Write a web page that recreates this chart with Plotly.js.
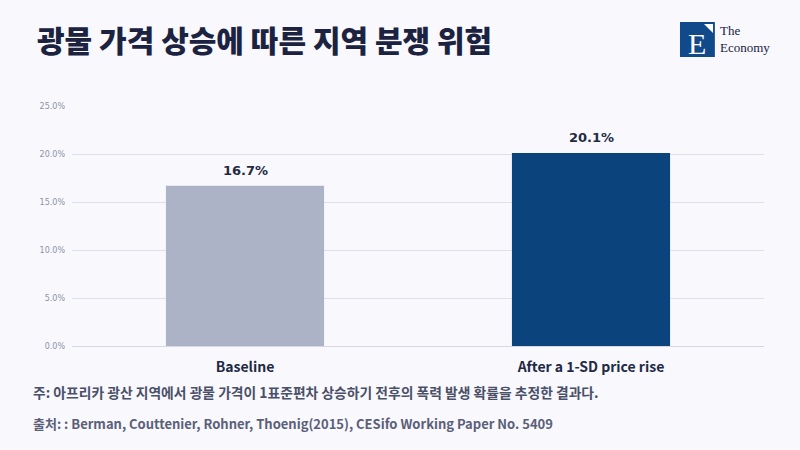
<!DOCTYPE html>
<html>
<head>
<meta charset="utf-8">
<script src="https://cdn.plot.ly/plotly-3.0.1.min.js"></script>
<style>
  html, body { margin: 0; padding: 0; background: #f8f8fd; }
  #chart { width: 800px; height: 450px; }
</style>
</head>
<body>
<div id="chart"></div>
<script>
// 광물 가격 상승 전후 분쟁 확률 (Berman et al. 2015)
const categorias = ['Baseline', 'After a 1-SD price rise'];
const probabilidades = [16.7, 20.1];
const etiquetas = ['16.7%', '20.1%'];
const coloresBarras = ['#adb3c6', '#0b437c'];
const ticksY = [0, 5, 10, 15, 20, 25];
const textosTicksY = ['0.0%', '5.0%', '10.0%', '15.0%', '20.0%', '25.0%'];

const titulo = '광물 가격 상승에 따른 지역 분쟁 위험';
const nota = '주: 아프리카 광산 지역에서 광물 가격이 1표준편차 상승하기 전후의 폭력 발생 확률을 추정한 결과다.';
const fuente = '출처: : Berman, Couttenier, Rohner, Thoenig(2015), CESifo Working Paper No. 5409';

const FUENTE_KR = '"Noto Sans CJK KR", "Noto Sans", sans-serif';
const NAVY = '#1b2340';

const traza = {
  type: 'bar',
  x: categorias,
  y: probabilidades,
  marker: { color: coloresBarras },
  hoverinfo: 'skip',
};

// etiquetas de valor arriba de cada barra (annotations para controlar la separación)
const anotacionesValores = categorias.map((c, i) => ({
  text: etiquetas[i], x: c, y: probabilidades[i], xref: 'x', yref: 'y',
  yanchor: 'bottom', yshift: 6, showarrow: false,
  font: { family: 'DejaVu Sans', size: 13, color: '#1f2a44', weight: 'bold' },
}));

// área de trazado: margen l=72, r=36, t=106, b=104 (240 px de alto)
const layout = {
  width: 800,
  height: 450,
  margin: { l: 72, r: 36, t: 106, b: 104 },
  paper_bgcolor: '#f8f8fd',
  plot_bgcolor: '#f8f8fd',
  bargap: 0.543,
  showlegend: false,
  xaxis: {
    showgrid: false,
    zeroline: false,
    showline: true,
    linecolor: '#d6d7e2',
    linewidth: 1,
    ticks: '',
    ticklabelstandoff: 8,
    tickfont: { family: FUENTE_KR, size: 14, color: '#1f2a44', weight: 'bold' },
  },
  yaxis: {
    range: [0, 25],
    tickvals: ticksY,
    ticktext: textosTicksY,
    showgrid: true,
    gridcolor: '#dfe0ea',
    gridwidth: 1,
    zeroline: false,
    ticks: '',
    ticklabelstandoff: 6,
    tickfont: { family: 'DejaVu Sans', size: 8, color: '#8d93a8' },
  },
  font: { family: FUENTE_KR },
  shapes: [
    // logo
    { type: 'rect', xref: 'paper', yref: 'paper', x0: 0.8786, x1: 0.929, y0: 1.204, y1: 1.35,
      fillcolor: '#104a8b', line: { width: 0 } },
    { type: 'path', xref: 'paper', yref: 'paper', path: 'M 0.9133 1.3417 L 0.9263 1.3417 L 0.9263 1.3042 Z',
      fillcolor: '#ffffff', line: { width: 0 } },
  ],
  annotations: [
    { text: titulo, xref: 'paper', yref: 'paper', x: -0.053, y: 1.28, xanchor: 'left', yanchor: 'middle',
      showarrow: false, font: { family: FUENTE_KR, size: 30, color: NAVY, weight: 900 } },
    { text: 'E', xref: 'paper', yref: 'paper', x: 0.9025, y: 1.262, xanchor: 'center', yanchor: 'middle',
      showarrow: false, font: { family: 'Liberation Serif', size: 30, color: '#ffffff' } },
    { text: 'The<br>Economy', xref: 'paper', yref: 'paper', x: 0.934, y: 1.278, xanchor: 'left', yanchor: 'middle',
      align: 'left', showarrow: false, font: { family: 'Liberation Serif', size: 13, color: '#1b2340' } },
    { text: nota, xref: 'paper', yref: 'paper', x: -0.059, y: -0.19, xanchor: 'left', yanchor: 'middle',
      showarrow: false, font: { family: FUENTE_KR, size: 13.8, color: '#4a5068', weight: 'bold' } },
    { text: fuente, xref: 'paper', yref: 'paper', x: -0.059, y: -0.324, xanchor: 'left', yanchor: 'middle',
      showarrow: false, font: { family: FUENTE_KR, size: 13, color: '#5a6078', weight: 'bold' } },
    ...anotacionesValores,
  ],
};

Plotly.newPlot('chart', [traza], layout, { displayModeBar: false, staticPlot: true });
</script>
</body>
</html>
